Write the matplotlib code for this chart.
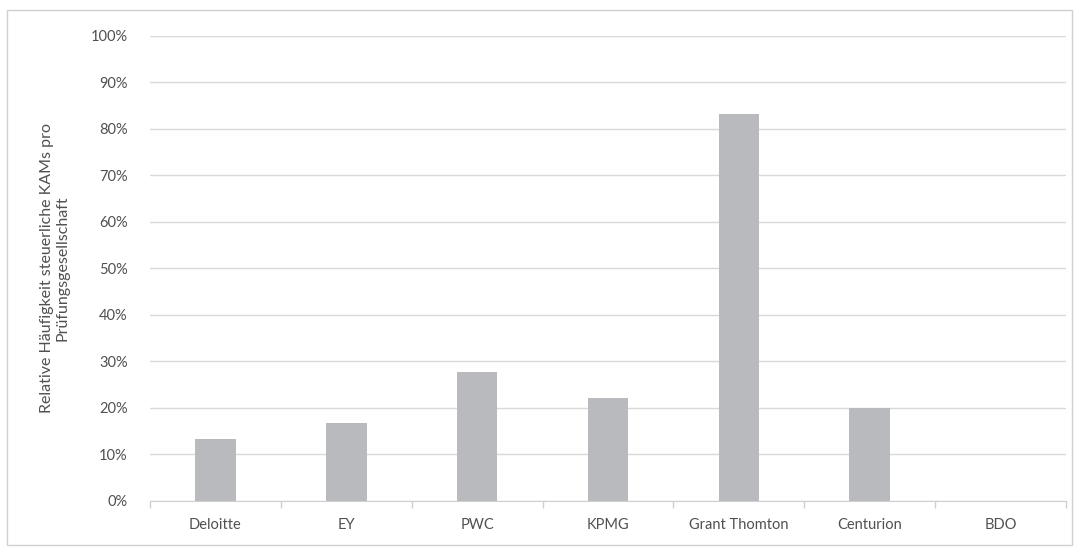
import matplotlib.pyplot as plt
from matplotlib.patches import Rectangle
from matplotlib.ticker import FuncFormatter

firms = ['Deloitte', 'EY', 'PWC', 'KPMG', 'Grant Thomton', 'Centurion', 'BDO']
shares = [0.133, 0.167, 0.278, 0.222, 0.833, 0.20, 0.0]
y_ticks = [i / 10 for i in range(11)]

plt.rcParams['font.family'] = ['Lato', 'DejaVu Sans']
text_col = '#505050'

fig = plt.figure(figsize=(10.79, 5.52), dpi=100)
ax = fig.add_axes([0.139, 0.0924, 0.849, 0.8426])

# outer chart border
fig.patches.append(Rectangle((0.0065, 0.013), 0.987, 0.969, transform=fig.transFigure,
                             fill=False, edgecolor='#d0d0d0', linewidth=1))

x = list(range(len(firms)))
ax.bar(x, shares, width=0.31, color='#b9babd', zorder=3)

ax.set_xlim(-0.5, len(firms) - 0.5)
ax.set_ylim(0, 1)
ax.set_yticks(y_ticks)
ax.yaxis.set_major_formatter(FuncFormatter(lambda v, p: f'{v * 100:.0f}%'))
ax.grid(axis='y', color='#d9d9d9', linewidth=1, zorder=0)

# category labels centred, tick marks between categories
ax.set_xticks(x)
ax.set_xticklabels(firms)
ax.set_xticks([i - 0.5 for i in range(len(firms) + 1)], minor=True)
ax.tick_params(axis='x', which='major', length=0, pad=12, labelsize=10.5, labelcolor=text_col)
ax.tick_params(axis='x', which='minor', length=5, color='#d0d0d0', width=1)
ax.tick_params(axis='y', length=0, pad=16, labelsize=10.5, labelcolor=text_col)

for side in ['top', 'right', 'left']:
    ax.spines[side].set_visible(False)
ax.spines['bottom'].set_color('#d0d0d0')

ax.set_ylabel('Relative Häufigkeit steuerliche KAMs pro\nPrüfungsgesellschaft',
              fontsize=11.5, color=text_col, labelpad=15, linespacing=1.15)

fig.savefig('out.png', dpi=100)
